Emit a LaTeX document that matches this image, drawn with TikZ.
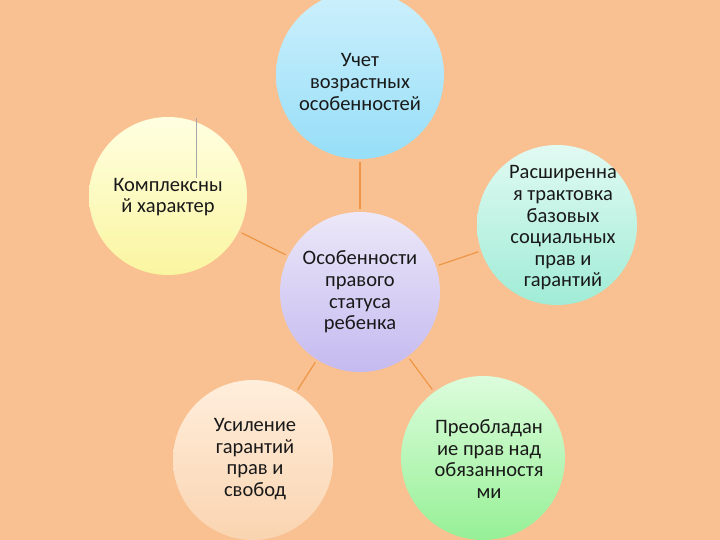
\documentclass[tikz,border=0pt]{standalone}
\usepackage{fontspec}
\setmainfont{Carlito}
\definecolor{bgc}{RGB}{249,193,145}
\definecolor{linec}{RGB}{238,150,70}
\tikzset{
  x=1pt, y=-1pt,
  bubble/.style={circle, minimum size=#1, inner sep=0pt, align=center,
    font=\fontsize{20.5}{21.6}\selectfont, text=black!90},
  link/.style={draw=linec, line width=1.2pt, shorten <=3pt, shorten >=3pt},
}
\begin{document}
\begin{tikzpicture}
\fill[bgc] (0,0) rectangle (720,540);
\useasboundingbox (0,0) rectangle (720,540);
% circles
\shade[top color={rgb,255:red,205;green,240;blue,252}, bottom color={rgb,255:red,150;green,222;blue,248}] (360,75) circle (84);
\shade[top color={rgb,255:red,255;green,255;blue,225}, bottom color={rgb,255:red,250;green,245;blue,160}] (168,196) circle (79);
\shade[top color={rgb,255:red,236;green,232;blue,248}, bottom color={rgb,255:red,196;green,186;blue,240}] (360,292) circle (80);
\shade[top color={rgb,255:red,225;green,250;blue,242}, bottom color={rgb,255:red,160;green,236;blue,214}] (557,225) circle (80);
\shade[top color={rgb,255:red,255;green,238;blue,220}, bottom color={rgb,255:red,250;green,212;blue,176}] (253,460) circle (80);
\shade[top color={rgb,255:red,220;green,252;blue,220}, bottom color={rgb,255:red,150;green,240;blue,150}] (483,458) circle (82);
% nodes (circle outlines invisible, text placed as in the reference)
\node[bubble=168pt] (top) at (360,75) {};
\node[bubble=158pt] (left) at (168,196) {};
\node[bubble=160pt] (center) at (360,292) {};
\node[bubble=160pt] (right) at (557,225) {};
\node[bubble=160pt] (bl) at (253,460) {};
\node[bubble=164pt] (br) at (483,458) {};
\node[bubble=0pt] (topt) at (360,82) {Учет\\возрастных\\особенностей};
\node[bubble=0pt] (leftt) at (168,197) {Комплексны\\й характер};
\node[bubble=0pt] (centert) at (360,292) {Особенности\\правого\\статуса\\ребенка};
\node[bubble=0pt] (rightt) at (563,228) {Расширенна\\я трактовка\\базовых\\социальных\\прав и\\гарантий};
\node[bubble=0pt] (blt) at (255,459) {Усиление\\гарантий\\прав и\\свобод};
\node[bubble=0pt] (brt) at (489,459) {Преобладан\\ие прав над\\обязанностя\\ми};
% connectors
\path[link] (center) -- (top);
\path[link] (center) -- (left);
\path[link] (center) -- (right);
\path[link] (center) -- (bl);
\path[link] (center) -- (br);
% thin stray line
\coordinate (s1) at (196,118);
\coordinate (s2) at (196,178);
\draw[gray!70, line width=0.6pt] (s1) -- (s2);
\end{tikzpicture}
\end{document}
